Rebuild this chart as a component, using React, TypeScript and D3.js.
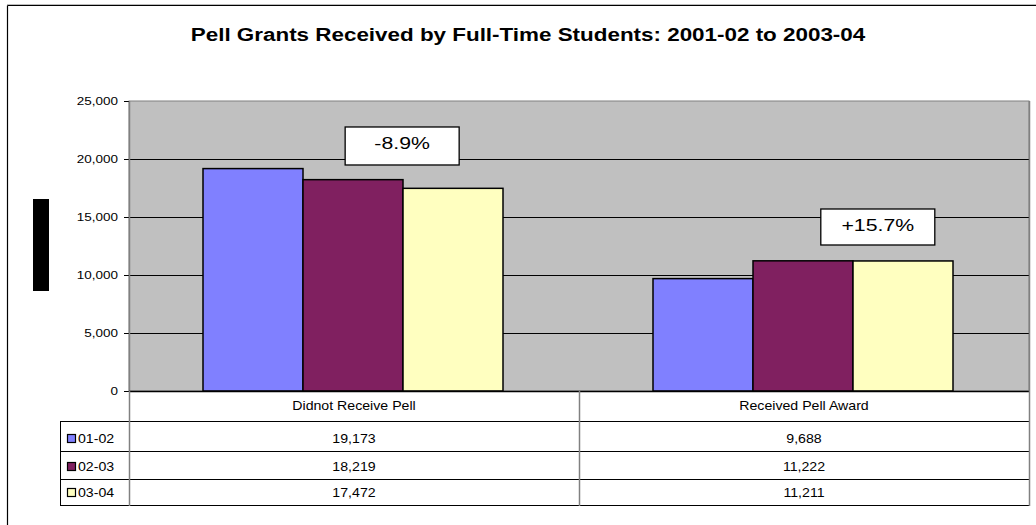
import React from "react";
import * as d3 from "d3";

const title = "Pell Grants Received by Full-Time Students: 2001-02 to 2003-04";
const categories = ["Didnot Receive Pell", "Received Pell Award"];
const seriesNames = ["01-02", "02-03", "03-04"];
const values0102 = [19173, 9688];
const values0203 = [18219, 11222];
const values0304 = [17472, 11211];
const yTicks = [0, 5000, 10000, 15000, 20000, 25000];
const annotations = [
  { category: "Didnot Receive Pell", label: "-8.9%", value: 22760, shift: 0.107 },
  { category: "Received Pell Award", label: "+15.7%", value: 15690, shift: 0.164 },
];

const seriesColors = ["#8080FF", "#802060", "#FFFFC0"];

const W = 1036;
const H = 525;
const plot = { left: 129, right: 1029, top: 101, bottom: 391 };
const rowBottoms = [421, 451, 479, 505];
const tableLeft = 60;

const FONT = "'Liberation Sans', Arial, Helvetica, sans-serif";

function SText({ x, y, sx = 1, anchor = "start", size, weight = "normal", children }: any) {
  return (
    <text
      transform={`translate(${x},${y}) scale(${sx},1)`}
      textAnchor={anchor}
      fontSize={size}
      fontWeight={weight}
      fontFamily={FONT}
      fill="#000"
    >
      {children}
    </text>
  );
}

export default function App() {
  const series = [values0102, values0203, values0304];
  const y = d3.scaleLinear().domain([0, 25000]).range([plot.bottom, plot.top]);
  const x = d3.scaleBand<string>().domain(categories).range([plot.left, plot.right]).padding(0);
  const bw = x.bandwidth();
  const inner = d3
    .scaleBand<string>()
    .domain(seriesNames)
    .range([bw / 6 - 1, (bw * 5) / 6 - 1])
    .padding(0);
  const fmt = d3.format(",");

  return (
    <svg
      width={W}
      height={H}
      style={{ position: "absolute", left: 0, top: 0, background: "#fff" }}
    >
      <rect x={0} y={0} width={W} height={H} fill="#fff" />
      {/* outer frame (cropped) */}
      <line x1={7} y1={4.5} x2={W} y2={4.5} stroke="#bbb" strokeWidth={1} />
      <line x1={7.5} y1={5.5} x2={W} y2={5.5} stroke="#000" strokeWidth={1} />
      <line x1={7.5} y1={5.5} x2={7.5} y2={H} stroke="#000" strokeWidth={1.2} />

      {/* title */}
      <SText x={528} y={41} sx={1.18} anchor="middle" size={19} weight="bold">
        {title}
      </SText>

      {/* y-axis title artifact */}
      <rect x={33} y={199} width={16} height={92} fill="#000" />

      {/* plot area */}
      <rect
        x={plot.left}
        y={plot.top}
        width={plot.right - plot.left}
        height={plot.bottom - plot.top}
        fill="#C0C0C0"
        stroke="#808080"
        strokeWidth={1}
      />
      {yTicks.map((t) => (
        <g key={t}>
          {t > 0 && t < 25000 && (
            <line x1={plot.left} x2={plot.right} y1={y(t) + 0.5} y2={y(t) + 0.5} stroke="#000" strokeWidth={1} />
          )}
          <line x1={plot.left - 5} x2={plot.left} y1={y(t) + 0.5} y2={y(t) + 0.5} stroke="#000" strokeWidth={1} />
          <SText x={plot.left - 11} y={y(t) + 4} sx={1.35} anchor="end" size={10}>
            {fmt(t)}
          </SText>
        </g>
      ))}
      <line x1={plot.left + 0.5} x2={plot.left + 0.5} y1={plot.top} y2={plot.bottom} stroke="#808080" strokeWidth={1.5} />

      {/* bars */}
      {categories.map((c, ci) =>
        seriesNames.map((s, si) => {
          const v = series[si][ci];
          const bx = (x(c) as number) + (inner(s) as number);
          return (
            <rect
              key={c + s}
              x={bx}
              y={y(v)}
              width={inner.bandwidth()}
              height={plot.bottom - y(v)}
              fill={seriesColors[si]}
              stroke="#000"
              strokeWidth={1.5}
            />
          );
        })
      )}
      <line x1={plot.left} x2={plot.right} y1={plot.bottom + 0.5} y2={plot.bottom + 0.5} stroke="#000" strokeWidth={1.5} />

      {/* annotations */}
      {annotations.map((a) => {
        const cx = (x(a.category) as number) + bw / 2 + a.shift * bw;
        const top = y(a.value);
        const bwid = a.label.length > 5 ? 114 : 114;
        const bh = a.label.length > 5 ? 36 : 38;
        return (
          <g key={a.label}>
            <rect x={cx - bwid / 2} y={top} width={bwid} height={bh} fill="#fff" stroke="#000" strokeWidth={1.3} />
            <SText x={cx} y={top + 22.5} sx={1.33} anchor="middle" size={16}>
              {a.label}
            </SText>
          </g>
        );
      })}

      {/* data table */}
      {rowBottoms.map((rb, i) => (
        <line
          key={rb}
          x1={i === 0 ? tableLeft : tableLeft}
          x2={plot.right}
          y1={rb + 0.5}
          y2={rb + 0.5}
          stroke="#000"
          strokeWidth={1}
        />
      ))}
      <line x1={tableLeft + 0.5} x2={tableLeft + 0.5} y1={rowBottoms[0]} y2={rowBottoms[3] + 1} stroke="#000" strokeWidth={1} />
      <line x1={plot.left + 0.5} x2={plot.left + 0.5} y1={plot.bottom} y2={rowBottoms[3] + 1} stroke="#808080" strokeWidth={1.5} />
      {categories.slice(1).map((c) => (
        <line
          key={c}
          x1={(x(c) as number) + 0.5}
          x2={(x(c) as number) + 0.5}
          y1={plot.bottom}
          y2={rowBottoms[3] + 1}
          stroke="#808080"
          strokeWidth={1.5}
        />
      ))}
      <line x1={plot.right + 0.5} x2={plot.right + 0.5} y1={plot.top} y2={rowBottoms[3] + 1} stroke="#808080" strokeWidth={1.5} />

      {categories.map((c) => (
        <SText key={c} x={(x(c) as number) + bw / 2} y={rowBottoms[0] - 11} sx={1.18} anchor="middle" size={12}>
          {c}
        </SText>
      ))}
      {seriesNames.map((s, si) => {
        const rb = rowBottoms[si + 1];
        return (
          <g key={s}>
            <rect x={67.5} y={rb - 16.5} width={8} height={8} fill={seriesColors[si]} stroke="#000" strokeWidth={1.2} />
            <SText x={78} y={rb - 8} sx={1.18} size={12}>
              {s}
            </SText>
            {categories.map((c, ci) => (
              <SText key={c} x={(x(c) as number) + bw / 2} y={rb - 8} sx={1.18} anchor="middle" size={12}>
                {fmt(series[si][ci])}
              </SText>
            ))}
          </g>
        );
      })}
    </svg>
  );
}
